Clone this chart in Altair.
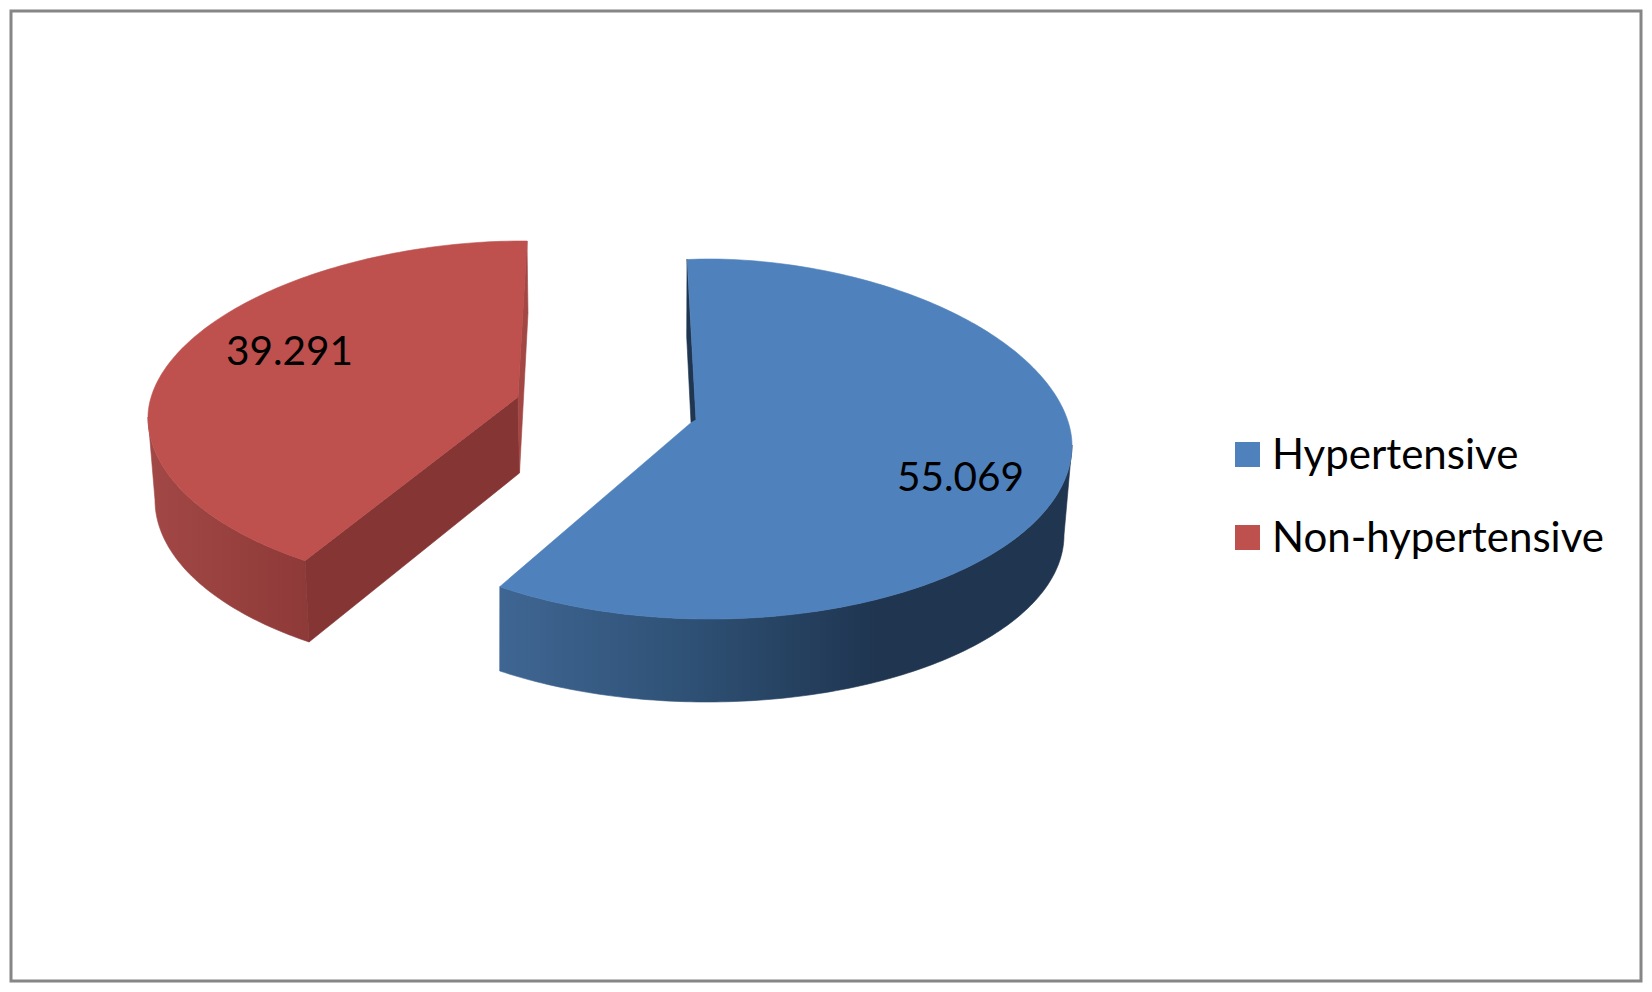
import math
import altair as alt
import pandas as pd

categories = ["Hypertensive", "Non-hypertensive"]
values = [55.069, 39.291]
value_labels = ["55.069", "39.291"]
top_colors = ["#4F81BD", "#BE504E"]

# Outline of each exploded slice, (reference pixels)
centers_x = [710, 520]
centers_y = [445, 417]
radii_x = [362, 372]
radii_up = [186, 176]
radii_down = [174, 176]
upper_exponent = [1.88, 1.9]
floor_centers_x = [707, 520]
floor_centers_y = [535, 500]
floor_radii_x = [357, 365]
floor_radii_y = [167, 174]
arc_starts = [-3.6, 215.3]
arc_ends = [215.5, 361.1]

label_x = [897, 226]
label_y = [491, 365]
legend_swatch_x = [1247.5, 1247.5]
legend_swatch_y = [454.5, 537.5]
legend_text_x = [1272, 1272]
legend_text_y = [469, 552]

FONT = "Lato"
X0, Y0, W, H = 11, 11, 1630, 970
xs = alt.Scale(domain=[X0, X0 + W], nice=False, zero=False)
ys = alt.Scale(domain=[Y0 + H, Y0], nice=False, zero=False)


def arc(i, t0, t1, floor=False, step=1.0):
    n = max(2, int(abs(t1 - t0) / step) + 1)
    pts = []
    for k in range(n + 1):
        t = math.radians(t0 + (t1 - t0) * k / n)
        s, c = math.sin(t), math.cos(t)
        if floor:
            pts.append((floor_centers_x[i] + floor_radii_x[i] * s, floor_centers_y[i] - floor_radii_y[i] * c))
        elif c > 0:
            e = upper_exponent[i]
            pts.append((centers_x[i] + radii_x[i] * s,
                        centers_y[i] - radii_up[i] * (1 - abs(s) ** e) ** (1 / e)))
        else:
            pts.append((centers_x[i] + radii_x[i] * s, centers_y[i] - radii_down[i] * c))
    return pts


def poly(pts, fill):
    pts = list(pts) + [pts[0]]
    df = pd.DataFrame({"x": [p[0] for p in pts], "y": [p[1] for p in pts], "i": range(len(pts))})
    return alt.Chart(df).mark_line(fill=fill, stroke=fill, strokeWidth=0.6, clip=False).encode(
        x=alt.X("x:Q", scale=xs, axis=None),
        y=alt.Y("y:Q", scale=ys, axis=None),
        order="i:Q",
    )


def grad(stops):
    return alt.LinearGradient(
        gradient="linear", x1=0, x2=1, y1=0, y2=0,
        stops=[alt.GradientStop(offset=o, color=c) for o, c in stops],
    )


blue, red = 0, 1
red_top_end = arc(red, arc_starts[red], arc_starts[red])[0]
red_floor_end = arc(red, arc_starts[red], arc_starts[red], floor=True)[0]
layers = [
    # blue slice
    poly(arc(blue, 90, arc_ends[blue]) + arc(blue, arc_ends[blue], 90, floor=True),
         grad([(0, "#3F6693"), (0.34, "#2E5074"), (0.66, "#1F3550"), (1, "#1F3550")])),
    poly([(687, 259), (686.7, 336.7), (691, 422.7), (696, 420)], "#1F3550"),
    poly(arc(blue, arc_starts[blue], arc_ends[blue]) + [(691, 422.7), (696, 420)], top_colors[blue]),
    # red slice
    poly(arc(red, arc_starts[red], 270) + arc(red, 270, arc_starts[red], floor=True),
         grad([(0, "#A24846"), (1, "#8E3A38")])),
    poly([red_top_end, (518, 397), (519.5, 473), red_floor_end], "#843534"),
    poly([(527, 241), (528, 313), (519.5, 473), (518, 397)], "#A24744"),
    poly(arc(red, arc_starts[red], arc_ends[red]) + [(518, 397)], top_colors[red]),
]

labels = pd.DataFrame({"x": label_x, "y": label_y, "t": value_labels})
layers.append(
    alt.Chart(labels).mark_text(font=FONT, fontSize=40.5, color="#000000", align="left", baseline="alphabetic").encode(
        x=alt.X("x:Q", scale=xs, axis=None), y=alt.Y("y:Q", scale=ys, axis=None), text="t:N")
)
legend = pd.DataFrame({"sx": legend_swatch_x, "sy": legend_swatch_y, "tx": legend_text_x, "ty": legend_text_y,
                       "cat": categories, "col": top_colors})
layers.append(
    alt.Chart(legend).mark_square(size=625, opacity=1, filled=True).encode(
        x=alt.X("sx:Q", scale=xs, axis=None), y=alt.Y("sy:Q", scale=ys, axis=None),
        color=alt.Color("col:N", scale=None))
)
layers.append(
    alt.Chart(legend).mark_text(font=FONT, fontSize=42, color="#000000", align="left", baseline="alphabetic").encode(
        x=alt.X("tx:Q", scale=xs, axis=None), y=alt.Y("ty:Q", scale=ys, axis=None), text="cat:N")
)

chart = alt.layer(*layers).properties(
    width=W, height=H, padding=3, background="#FFFFFF",
).configure_view(stroke="#868686", strokeWidth=3)

chart.save("out.html", embed_options={"renderer": "svg", "actions": False})
